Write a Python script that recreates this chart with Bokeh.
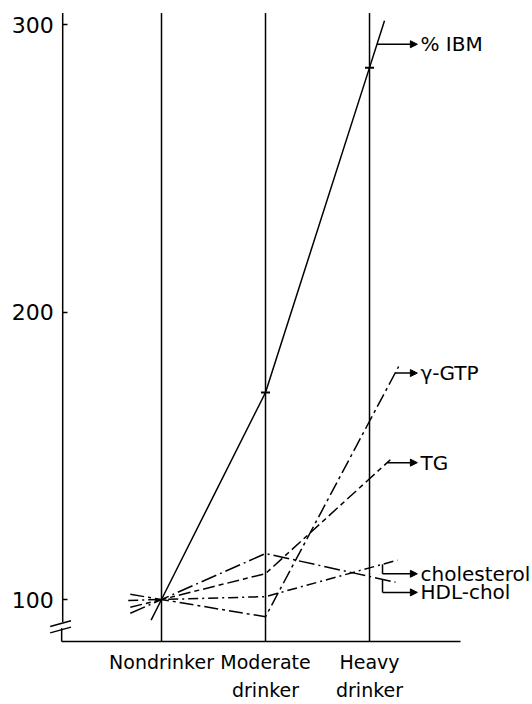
from bokeh.plotting import figure
from bokeh.models import Range1d, FixedTicker, Arrow, NormalHead, ColumnDataSource
from bokeh.embed import file_html
from bokeh.resources import INLINE
from bokeh.core.properties import value

# ---- data ----
group_labels = ["Nondrinker", "Moderate\ndrinker", "Heavy\ndrinker"]
group_x = [1, 2, 3]
ibm = [100, 172, 285]
ggtp = [100, 94, 162]
tg = [100, 109, 142]
chol = [100, 101, 111]
hdl = [100, 116, 108]
y_ticks = [100, 200, 300]
names = ["% IBM", "\u03b3-GTP", "TG", "cholesterol", "HDL-chol"]

FONT = "DejaVu Sans"
W, H = 532, 704
XR = (-0.548, 4.567)
YR = (63.48, 308.35)
px_per_y = H / (YR[1] - YR[0])

p = figure(width=W, height=H, output_backend="svg", toolbar_location=None,
           x_range=Range1d(*XR), y_range=Range1d(*YR),
           min_border=0, min_border_left=0, min_border_right=0,
           min_border_top=0, min_border_bottom=0)
p.outline_line_color = None
p.grid.visible = False
p.background_fill_color = "white"
p.border_fill_color = "white"

AX_X = 0.05       # position of drawn y axis (data x)
AX_Y = 85.4       # position of drawn x axis (data y)

# y axis: ticks and labels from bokeh axis, fixed inside frame
ya = p.yaxis[0]
ya.fixed_location = AX_X
ya.ticker = FixedTicker(ticks=y_ticks)
ya.axis_line_color = None
ya.major_tick_in = 5
ya.major_tick_out = 0
ya.major_tick_line_width = 1.5
ya.minor_tick_line_color = None
ya.major_label_standoff = 9
ya.major_label_text_font = FONT
ya.major_label_text_font_size = "22px"
ya.major_label_text_color = "black"

xa = p.xaxis[0]
xa.fixed_location = AX_Y
xa.ticker = FixedTicker(ticks=group_x)
xa.major_label_overrides = {x: lab for x, lab in zip(group_x, group_labels)}
xa.axis_line_color = None
xa.major_tick_line_color = None
xa.minor_tick_line_color = None
xa.major_label_standoff = 4
xa.major_label_text_font = FONT
xa.major_label_text_font_size = "19px"
xa.major_label_text_color = "black"
xa.major_label_text_line_height = 1.25

# axis lines with break
TOP = 304.0
p.segment(x0=[AX_X, AX_X - 0.01, AX_X - 0.01], y0=[TOP, 90.0, AX_Y],
          x1=[AX_X, AX_X - 0.01, 3.875], y1=[92.2, AX_Y, AX_Y],
          line_color="black", line_width=1.5)
p.segment(x0=[AX_X - 0.12, AX_X - 0.12], y0=[90.6, 88.4],
          x1=[AX_X + 0.08, AX_X + 0.08], y1=[92.6, 90.4],
          line_color="black", line_width=1.5)

# vertical group lines
p.segment(x0=group_x, y0=[AX_Y] * 3, x1=group_x, y1=[TOP] * 3,
          line_color="black", line_width=1.5)


def extended(ys, left, right):
    xs = [group_x[0] - left] + group_x + [group_x[-1] + right]
    y_l = ys[0] - (ys[1] - ys[0]) * left
    y_r = ys[-1] + (ys[-1] - ys[-2]) * right
    return xs, [y_l] + list(ys) + [y_r]


series = [
    (ibm, 0.10, 0.144, "solid", 0.5),
    (ggtp, 0.30, 0.28, "14 4 3 4", 0.88),
    (tg, 0.30, 0.20, "12 4 5 4", 0.85),
    (chol, 0.32, 0.27, "10 4 2 4", None),
    (hdl, 0.30, 0.25, "16 4 2 4", None),
]

ARROW_END = 3.46
LABEL_X = 3.49
BRACKET_X = 3.125
drops_px = {3: 9.5, 4: 13.0}

ax0, ay0, ax1, ay1, lx, ly = [], [], [], [], [], []
bx0, by0, bx1, by1 = [], [], [], []
for i, (ys, le, ri, dash, frac) in enumerate(series):
    xs, yy = extended(ys, le, ri)
    p.line(xs, yy, line_color="black", line_width=1.5, line_dash=dash)
    slope = ys[-1] - ys[-2]
    if frac is not None:
        sx = group_x[-1] + ri * frac
        sy = ys[-1] + slope * ri * frac
        ey = sy
    else:
        sx = BRACKET_X
        top = ys[-1] + slope * (BRACKET_X - group_x[-1])
        ey = top - drops_px[i] / px_per_y
        bx0.append(sx); by0.append(top); bx1.append(sx); by1.append(ey)
    ax0.append(sx); ay0.append(ey); ax1.append(ARROW_END); ay1.append(ey)
    lx.append(LABEL_X); ly.append(ey)

# IBM point markers
p.scatter(group_x[1:], ibm[1:], marker="dash", size=9, line_color="black",
          line_width=2)

p.segment(x0=bx0, y0=by0, x1=bx1, y1=by1, line_color="black", line_width=1.5)
arrows = ColumnDataSource(dict(x0=ax0, y0=ay0, x1=ax1, y1=ay1))
p.add_layout(Arrow(source=arrows, x_start="x0", y_start="y0", x_end="x1",
                   y_end="y1", line_color="black", line_width=1.5,
                   end=NormalHead(size=7, fill_color="black",
                                  line_color="black")))

p.text(x=lx, y=ly, text=names, text_font=value(FONT), text_font_size="20px",
       text_baseline="middle", text_align="left", text_color="black")

open("out.html", "w").write(file_html(p, INLINE))
